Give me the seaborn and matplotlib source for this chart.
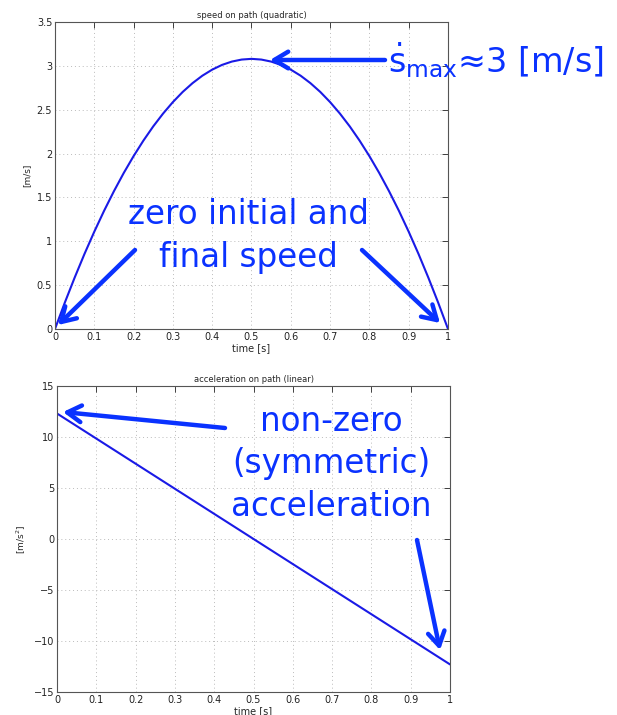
import matplotlib
matplotlib.use("Agg")
import matplotlib.pyplot as plt
import seaborn as sns
import pandas as pd

# ---- data ----
time_s = [0.0, 0.025, 0.05, 0.075, 0.1, 0.125, 0.15, 0.175, 0.2, 0.225, 0.25,
          0.275, 0.3, 0.325, 0.35, 0.375, 0.4, 0.425, 0.45, 0.475, 0.5,
          0.525, 0.55, 0.575, 0.6, 0.625, 0.65, 0.675, 0.7, 0.725, 0.75,
          0.775, 0.8, 0.825, 0.85, 0.875, 0.9, 0.925, 0.95, 0.975, 1.0]
speed = [0.0, 0.300, 0.585, 0.855, 1.109, 1.348, 1.571, 1.779, 1.971, 2.148, 2.31,
         2.456, 2.587, 2.703, 2.803, 2.888, 2.957, 3.011, 3.049, 3.072, 3.08,
         3.072, 3.049, 3.011, 2.957, 2.888, 2.803, 2.703, 2.587, 2.456, 2.31,
         2.148, 1.971, 1.779, 1.571, 1.348, 1.109, 0.855, 0.585, 0.300, 0.0]
accel_time = [0.0, 0.5, 1.0]
accel = [12.3, 0.0, -12.3]

x_ticks = [0, 0.1, 0.2, 0.3, 0.4, 0.5, 0.6, 0.7, 0.8, 0.9, 1]
speed_ticks_y = [0, 0.5, 1, 1.5, 2, 2.5, 3, 3.5]
accel_ticks_y = [-15, -10, -5, 0, 5, 10, 15]

df_s = pd.DataFrame({"t": time_s, "v": speed})
df_a = pd.DataFrame({"t": accel_time, "a": accel})

sns.set_style("white")
plt.rcParams["font.family"] = ["DejaVu Sans"]
plt.rcParams["mathtext.fontset"] = "dejavusans"

fig = plt.figure(figsize=(6.17, 7.15), dpi=100)
ax1 = fig.add_axes([0.0891, 0.5399, 0.637, 0.4293])
ax2 = fig.add_axes([0.0924, 0.0322, 0.637, 0.4280])

line_color = "#1a1ae6"
arrow_color = "#0a32ff"

sns.lineplot(data=df_s, x="t", y="v", ax=ax1, color=line_color, lw=1.5)
sns.lineplot(data=df_a, x="t", y="a", ax=ax2, color=line_color, lw=1.5)

def style(ax, yticks, ylim, title, ylabel):
    ax.set_xlim(0, 1)
    ax.set_ylim(*ylim)
    ax.set_xticks(x_ticks)
    ax.set_xticklabels([f"{v:g}" for v in x_ticks])
    ax.set_yticks(yticks)
    ax.set_yticklabels([f"{v:g}".replace("-", "\u2212") for v in yticks])
    ax.tick_params(direction="in", length=4, labelsize=7, width=0.6, colors="#222222",
                   top=True, right=True, pad=2)
    ax.grid(True, linestyle=(0, (1, 3)), color="#bbbbbb", lw=0.7)
    for sp in ax.spines.values():
        sp.set_color("#555555")
        sp.set_linewidth(0.8)
    ax.set_title(title, fontsize=6, pad=3)
    ax.set_xlabel("time [s]", fontsize=7, labelpad=1)
    ax.set_ylabel(ylabel, fontsize=6.5, labelpad=4)

style(ax1, speed_ticks_y, (0, 3.5), "speed on path (quadratic)", "[m/s]")
style(ax2, accel_ticks_y, (-15, 15), "acceleration on path (linear)", "[m/s$^2$]")

# transparent overlay for annotations (drawn on top of both axes)
ov = fig.add_axes([0, 0, 1, 1], facecolor="none")
ov.set_xlim(0, 617)
ov.set_ylim(715, 0)
ov.axis("off")

def arrow(tail, tip):
    ov.annotate("", xy=tip, xytext=tail,
                arrowprops=dict(arrowstyle="->,head_length=1.0,head_width=0.6", lw=3.2,
                                color=arrow_color, shrinkA=0, shrinkB=0,
                                capstyle="round", joinstyle="round"))

arrow((385, 60), (270, 60))
arrow((135, 250), (58, 325))
arrow((362, 250), (440, 323))
arrow((225, 428), (63, 412))
arrow((417, 540), (440, 650))

ov.text(388, 72, r"$\dot{\mathrm{s}}_{\mathrm{max}}$≈3 [m/s]",
        fontsize=24, color=arrow_color, ha="left", va="baseline")
ov.text(248, 236, "zero initial and\nfinal speed", fontsize=23.5,
        color=arrow_color, ha="center", va="center", linespacing=1.4)
ov.text(331, 464, "non-zero\n(symmetric)\nacceleration", fontsize=23.5,
        color=arrow_color, ha="center", va="center", linespacing=1.35)

fig.savefig("out.png", dpi=100)
